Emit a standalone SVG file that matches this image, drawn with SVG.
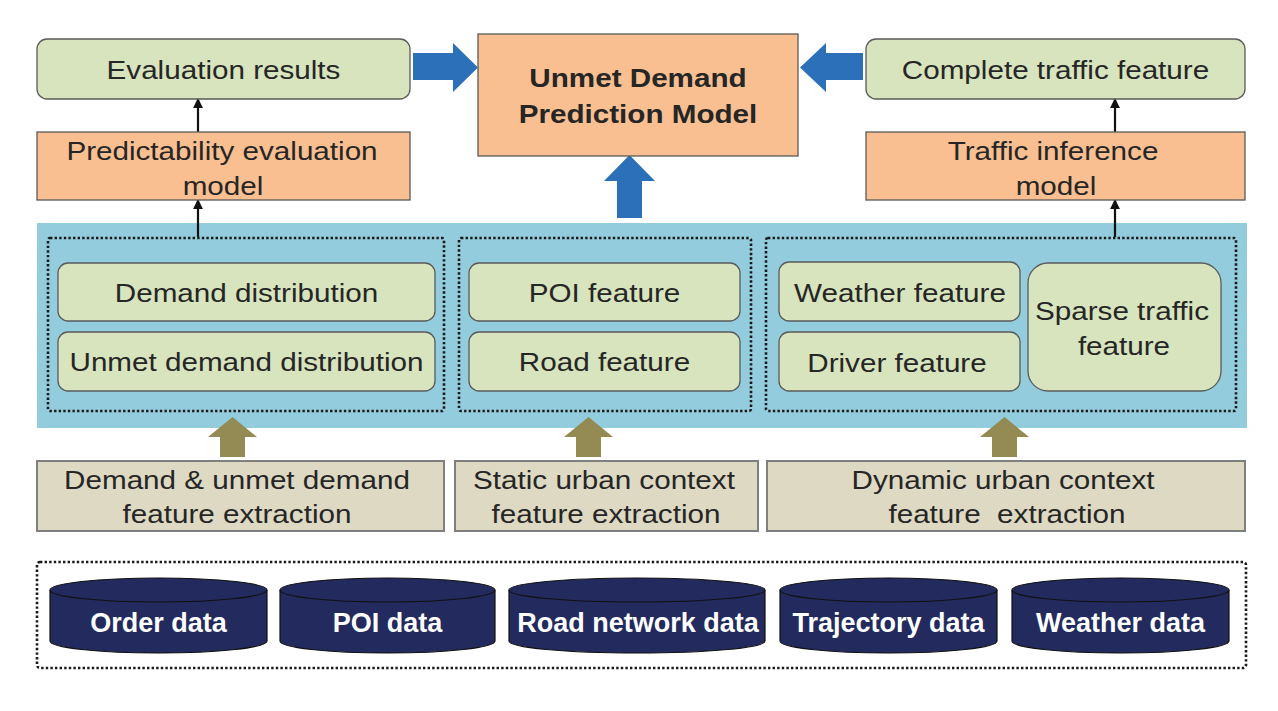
<svg xmlns="http://www.w3.org/2000/svg" width="1278" height="711" viewBox="0 0 1278 711">
<style>
  .t { font-family: "Liberation Sans", Arial, sans-serif; font-size: 26px; fill: #262626; text-anchor: middle; transform-box: fill-box; transform-origin: center; transform: scaleX(1.14); white-space: pre; }
  .b { font-weight: bold; }
  .d { font-family: "Liberation Sans", Arial, sans-serif; font-size: 27px; font-weight: bold; fill: #ffffff; text-anchor: middle; }
  .green { fill: #d7e4bd; stroke: #5a5a5a; stroke-width: 1.3; }
  .orange { fill: #f9bf90; stroke: #5a5a5a; stroke-width: 1.3; }
  .ext { fill: #ddd9c3; stroke: #7f7f7f; stroke-width: 2; }
  .dots { fill: none; stroke: #1a1a1a; stroke-width: 2.6; stroke-dasharray: 2.4 2.2; }
  .cyl { fill: #222a5e; stroke: #111111; stroke-width: 1.2; }
  .blue { fill: #2b70b8; }
  .olive { fill: #948a54; }
  .thin { stroke: #111111; stroke-width: 2.2; fill: none; marker-end: url(#ah); }
</style>
<defs>
  <marker id="ah" viewBox="0 0 10 10" refX="9" refY="5" markerWidth="4.5" markerHeight="4.5" orient="auto" markerUnits="strokeWidth">
    <path d="M0,0 L10,5 L0,10 Z" fill="#111111"/>
  </marker>
</defs>

<!-- background band -->
<rect id="feature-band" x="37" y="223" width="1210" height="205" fill="#93cddd"/>

<g id="connectors">
  <!-- blue block arrows -->
  <path class="blue" d="M413,53 L453,53 L453,43 L478,67.5 L453,92 L453,80 L413,80 Z"/>
  <path class="blue" d="M863,53 L826,53 L826,43 L800,67.5 L826,92 L826,80 L863,80 Z"/>
  <path class="blue" d="M617,218 L617,181 L604,181 L629.5,155 L655,181 L642,181 L642,218 Z"/>
  <!-- olive block arrows -->
  <path class="olive" d="M220,457 L220,437 L208,437 L232.5,417 L257,437 L245,437 L245,457 Z"/>
  <path class="olive" d="M576,457 L576,437 L564,437 L588.5,417 L613,437 L601,437 L601,457 Z"/>
  <path class="olive" d="M992,457 L992,437 L980,437 L1004.5,417 L1029,437 L1017,437 L1017,457 Z"/>
  <!-- thin arrows -->
  <line class="thin" x1="198" y1="237" x2="198" y2="200"/>
  <line class="thin" x1="198" y1="132" x2="198" y2="99"/>
  <line class="thin" x1="1115" y1="237" x2="1115" y2="200"/>
  <line class="thin" x1="1115" y1="132" x2="1115" y2="99"/>
</g>

<g id="evaluation-results">
  <rect class="green" x="37" y="39" width="373" height="60" rx="10"/>
  <text class="t" x="223.5" y="79">Evaluation results</text>
</g>
<g id="unmet-demand-prediction-model">
  <rect class="orange" x="478" y="34" width="320" height="122"/>
  <text class="t b" x="638" y="87">Unmet Demand</text>
  <text class="t b" x="638" y="123">Prediction Model</text>
</g>
<g id="complete-traffic-feature">
  <rect class="green" x="866" y="39" width="379" height="60" rx="10"/>
  <text class="t" x="1055.5" y="79">Complete traffic feature</text>
</g>
<g id="predictability-evaluation-model">
  <rect class="orange" x="37" y="132" width="373" height="68"/>
  <text class="t" x="222" y="160">Predictability evaluation</text>
  <text class="t" x="223" y="195">model</text>
</g>
<g id="traffic-inference-model">
  <rect class="orange" x="866" y="132" width="379" height="68"/>
  <text class="t" x="1053" y="160">Traffic inference</text>
  <text class="t" x="1056" y="195">model</text>
</g>

<g id="demand-group">
  <rect class="dots" x="48" y="238" width="396" height="173" rx="2"/>
</g>
<g id="static-group">
  <rect class="dots" x="459" y="238" width="292" height="173" rx="2"/>
</g>
<g id="dynamic-group">
  <rect class="dots" x="766" y="238" width="470" height="173" rx="2"/>
</g>

<g id="demand-distribution">
  <rect class="green" x="58" y="263" width="377" height="58" rx="10"/>
  <text class="t" x="246.5" y="302">Demand distribution</text>
</g>
<g id="unmet-demand-distribution">
  <rect class="green" x="58" y="332" width="377" height="59" rx="10"/>
  <text class="t" x="246.5" y="371">Unmet demand distribution</text>
</g>
<g id="poi-feature">
  <rect class="green" x="469" y="263" width="271" height="58" rx="10"/>
  <text class="t" x="604.5" y="302">POI feature</text>
</g>
<g id="road-feature">
  <rect class="green" x="469" y="332" width="271" height="59" rx="10"/>
  <text class="t" x="604.5" y="371">Road feature</text>
</g>
<g id="weather-feature">
  <rect class="green" x="779" y="262" width="241" height="59" rx="10"/>
  <text class="t" x="900" y="302">Weather feature</text>
</g>
<g id="driver-feature">
  <rect class="green" x="779" y="332" width="241" height="59" rx="10"/>
  <text class="t" x="897" y="372">Driver feature</text>
</g>
<g id="sparse-traffic-feature">
  <rect class="green" x="1028" y="263" width="193" height="128" rx="20"/>
  <text class="t" x="1122" y="320">Sparse traffic</text>
  <text class="t" x="1124" y="355">feature</text>
</g>

<g id="demand-extraction">
  <rect class="ext" x="37" y="461" width="407" height="70"/>
  <text class="t" x="237" y="489">Demand &amp; unmet demand</text>
  <text class="t" x="237" y="523">feature extraction</text>
</g>
<g id="static-extraction">
  <rect class="ext" x="455" y="461" width="303" height="70"/>
  <text class="t" x="604" y="489">Static urban context</text>
  <text class="t" x="606" y="523">feature extraction</text>
</g>
<g id="dynamic-extraction">
  <rect class="ext" x="767" y="461" width="478" height="70"/>
  <text class="t" x="1003" y="489">Dynamic urban context</text>
  <text class="t" x="1007" y="523">feature  extraction</text>
</g>

<g id="data-sources">
  <rect class="dots" x="37" y="562" width="1209" height="106" rx="3"/>
</g>
<g id="order-data">
  <path class="cyl" d="M50,590 A108.5,12 0 0 1 267,590 L267,641 A108.5,12 0 0 1 50,641 Z"/>
  <path d="M50,590 A108.5,12 0 0 0 267,590" fill="none" stroke="#111111" stroke-width="1.2"/>
  <text class="d" x="158.5" y="632">Order data</text>
</g>
<g id="poi-data">
  <path class="cyl" d="M280,590 A107.5,12 0 0 1 495,590 L495,641 A107.5,12 0 0 1 280,641 Z"/>
  <path d="M280,590 A107.5,12 0 0 0 495,590" fill="none" stroke="#111111" stroke-width="1.2"/>
  <text class="d" x="387.5" y="632">POI data</text>
</g>
<g id="road-network-data">
  <path class="cyl" d="M509,590 A128,12 0 0 1 765,590 L765,641 A128,12 0 0 1 509,641 Z"/>
  <path d="M509,590 A128,12 0 0 0 765,590" fill="none" stroke="#111111" stroke-width="1.2"/>
  <text class="d" x="638" y="632">Road network data</text>
</g>
<g id="trajectory-data">
  <path class="cyl" d="M780,590 A108.5,12 0 0 1 997,590 L997,641 A108.5,12 0 0 1 780,641 Z"/>
  <path d="M780,590 A108.5,12 0 0 0 997,590" fill="none" stroke="#111111" stroke-width="1.2"/>
  <text class="d" x="888.5" y="632">Trajectory data</text>
</g>
<g id="weather-data">
  <path class="cyl" d="M1012,590 A108.5,12 0 0 1 1229,590 L1229,641 A108.5,12 0 0 1 1012,641 Z"/>
  <path d="M1012,590 A108.5,12 0 0 0 1229,590" fill="none" stroke="#111111" stroke-width="1.2"/>
  <text class="d" x="1120.5" y="632">Weather data</text>
</g>
</svg>
